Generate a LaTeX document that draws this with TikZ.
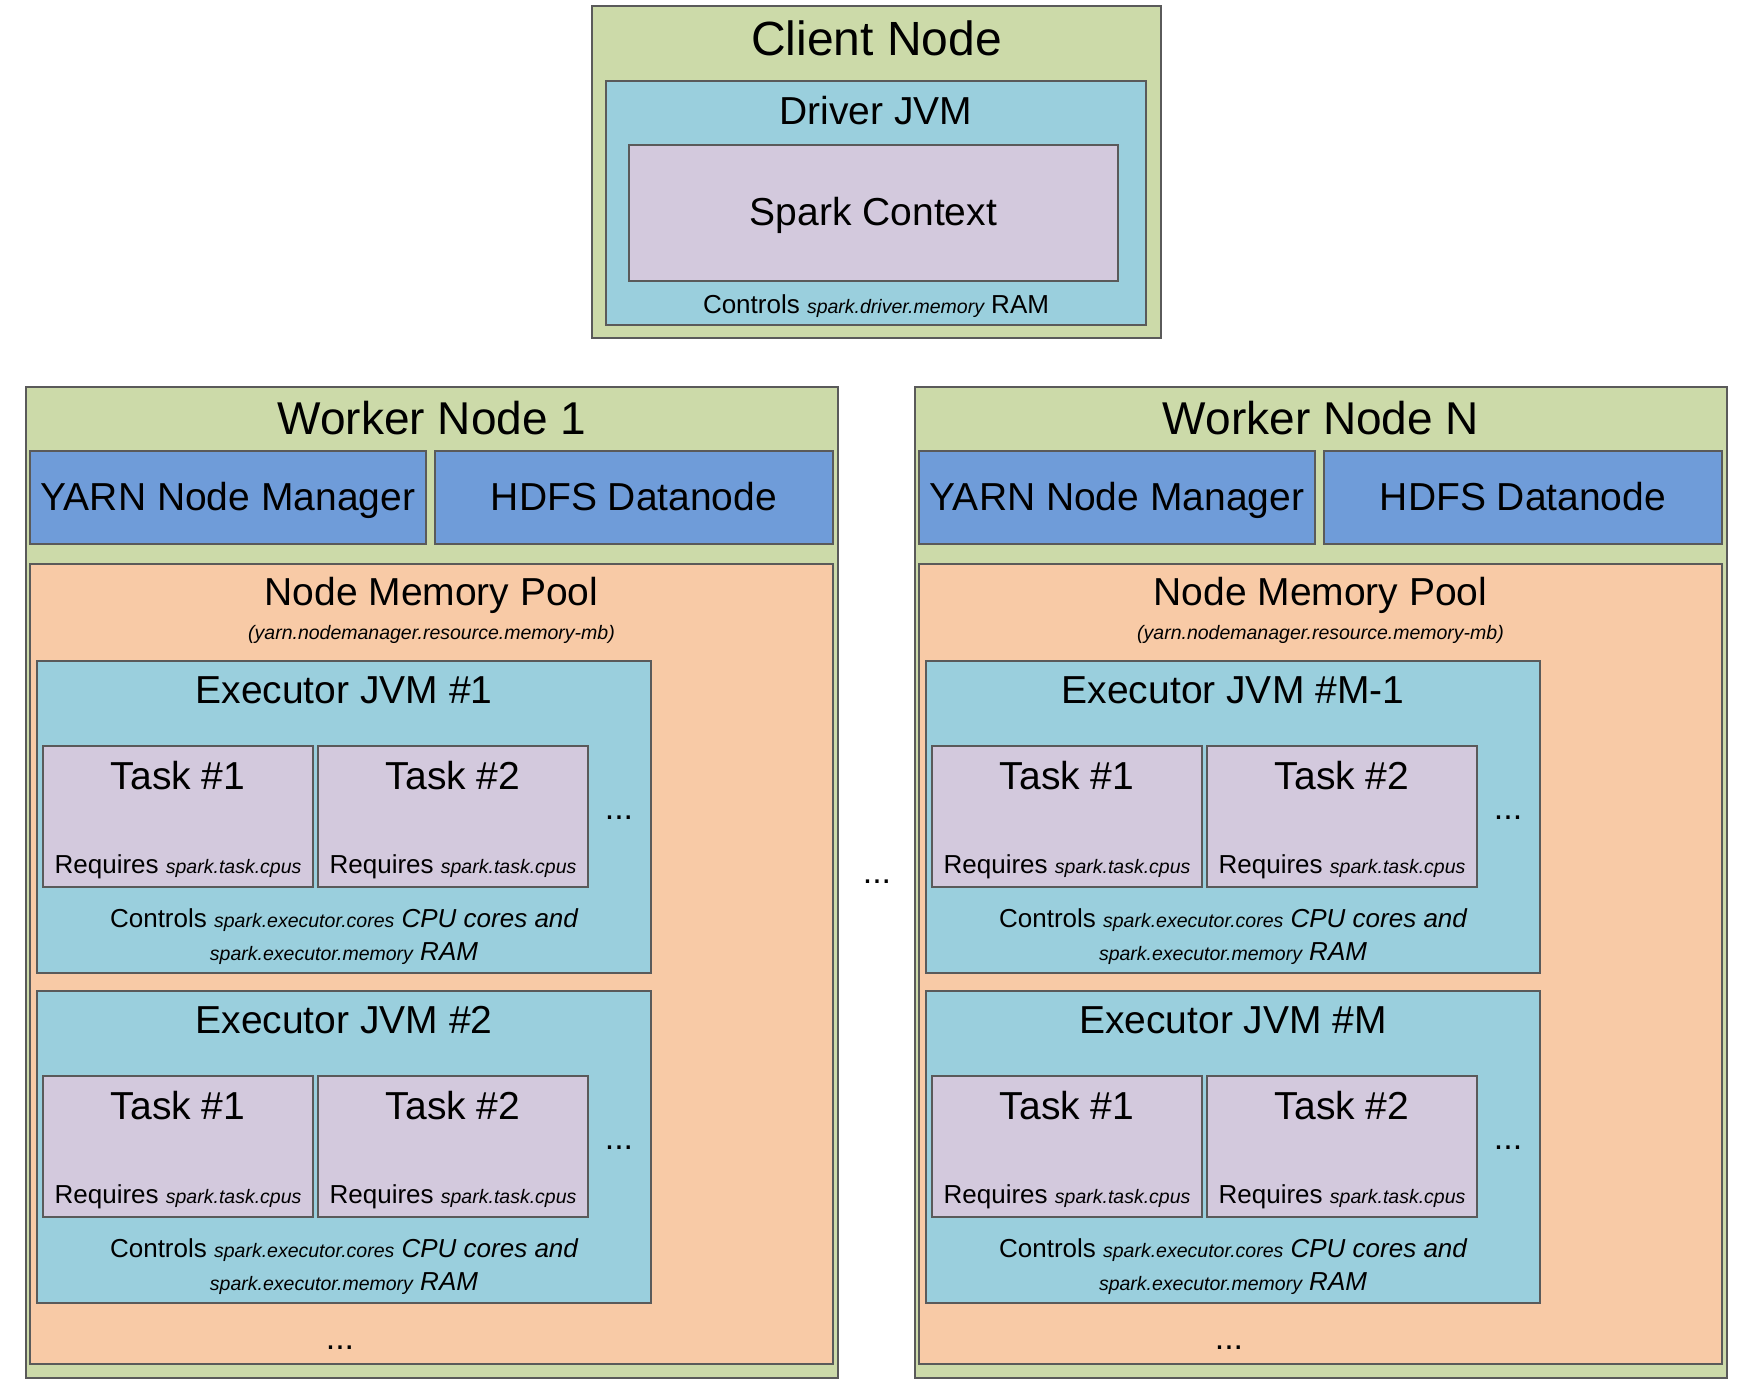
\documentclass[tikz,border=0pt]{standalone}
\usepackage{fontspec}
\setmainfont{Liberation Sans}

\definecolor{nodegreen}{HTML}{CCDAA9}
\definecolor{jvmteal}{HTML}{9ACFDD}
\definecolor{tasklilac}{HTML}{D3C9DD}
\definecolor{svcblue}{HTML}{6F9CD9}
\definecolor{poolpeach}{HTML}{F8CAA6}
\definecolor{boxline}{HTML}{5A5A5A}

\newcommand{\fsz}[1]{\fontsize{#1}{#1}\selectfont}

\tikzset{
  box/.style={draw=boxline, line width=1.3pt, anchor=north west,
              inner sep=0pt, outer sep=0pt},
  lbl/.style={anchor=base, inner sep=0pt, outer sep=0pt, text=black},
  dots/.style={lbl, font=\fsz{34}},
}

% rectangle panel given by its corners: name, x1, y1, x2, y2, fill
\newcommand{\panel}[6]{%
  \pgfmathsetmacro\bxw{#4-#2}\pgfmathsetmacro\bxh{#5-#3}%
  \node[box, fill=#6, minimum width=\bxw pt, minimum height=\bxh pt] (#1) at (#2,#3) {};}

% one executor JVM with two tasks: prefix, vertical offset, title
\newcommand{\executor}[3]{%
  \begin{scope}[shift={(0,#2)}]
    \panel{#1}{37}{661}{651}{973}{jvmteal}
    \node[lbl, font=\fsz{39}] (#1-title) at (344,703) {#3};
    \panel{#1-t1}{43}{746}{313}{887}{tasklilac}
    \panel{#1-t2}{318}{746}{588}{887}{tasklilac}
    \node[lbl, font=\fsz{39}] (#1-t1-title) at (178,789) {Task \#1};
    \node[lbl, font=\fsz{39}] (#1-t2-title) at (453,789) {Task \#2};
    \node[lbl, font=\fsz{26}] (#1-t1-req) at (178,873) {Requires {\fsz{19.5}\itshape spark.task.cpus}};
    \node[lbl, font=\fsz{26}] (#1-t2-req) at (453,873) {Requires {\fsz{19.5}\itshape spark.task.cpus}};
    \node[dots] (#1-more) at (619,819) {...};
    \node[lbl, font=\fsz{26}] (#1-ctl1) at (344,927)
      {Controls {\fsz{19.5}\itshape spark.executor.cores} {\itshape CPU cores and}};
    \node[lbl, font=\fsz{26}] (#1-ctl2) at (344,960)
      {{\fsz{19.5}\itshape spark.executor.memory} {\itshape RAM}};
  \end{scope}}

% one worker node: prefix, horizontal offset, title, first and second executor titles
\newcommand{\worker}[5]{%
  \begin{scope}[shift={(#2,0)}]
    \panel{#1}{26}{387}{838}{1378}{nodegreen}
    \node[lbl, font=\fsz{46}] (#1-title) at (432,434) {#3};
    \panel{#1-yarn}{30}{451}{426}{544}{svcblue}
    \panel{#1-hdfs}{435}{451}{833}{544}{svcblue}
    \node[lbl, font=\fsz{39}] (#1-yarn-txt) at (228,510) {YARN Node Manager};
    \node[lbl, font=\fsz{39}] (#1-hdfs-txt) at (634,510) {HDFS Datanode};
    \panel{#1-pool}{30}{564}{833}{1364}{poolpeach}
    \node[lbl, font=\fsz{39}] (#1-pool-title) at (431.5,605) {Node Memory Pool};
    \node[lbl, font=\fsz{19.5}\itshape] (#1-pool-param) at (431.5,639)
      {(yarn.nodemanager.resource.memory-mb)};
    \executor{#1-ex1}{0}{#4}
    \executor{#1-ex2}{330}{#5}
    \node[dots] (#1-more) at (340,1349) {...};
  \end{scope}}

\begin{document}
\begin{tikzpicture}[x=1pt, y=-1pt]
  \useasboundingbox (0,0) rectangle (1743,1392);

  % client node with the driver
  \panel{client}{592}{6}{1161}{338}{nodegreen}
  \node[lbl, font=\fsz{48}] (client-title) at (876.5,55) {Client Node};
  \panel{driver}{606}{81}{1146}{325}{jvmteal}
  \node[lbl, font=\fsz{39}] (driver-title) at (876,124) {Driver JVM};
  \panel{ctx}{629}{145}{1118}{281}{tasklilac}
  \node[lbl, font=\fsz{39}] (ctx-title) at (873.5,225) {Spark Context};
  \node[lbl, font=\fsz{26}] (driver-ctl) at (876,313)
    {Controls {\fsz{19.5}\itshape spark.driver.memory} RAM};

  % worker nodes
  \worker{wa}{0}{Worker Node 1}{Executor JVM \#1}{Executor JVM \#2}
  \worker{wn}{889}{Worker Node N}{Executor JVM \#M-1}{Executor JVM \#M}

  \node[dots] (between) at (877,883) {...};
\end{tikzpicture}
\end{document}
